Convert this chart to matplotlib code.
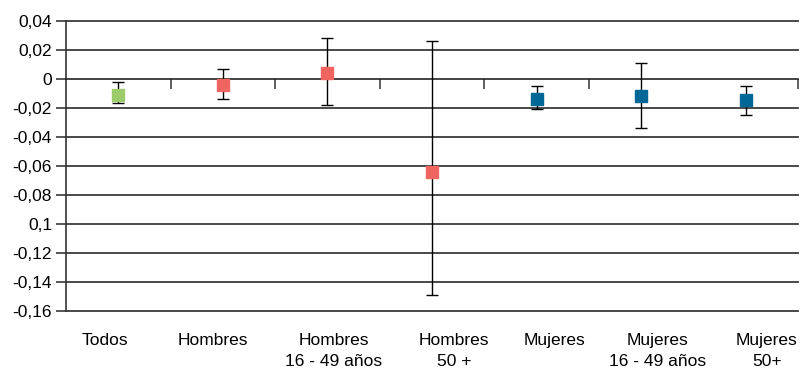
import numpy as np
import matplotlib.pyplot as plt

plt.rcParams['font.family'] = ['Liberation Sans', 'DejaVu Sans']

# datos
grupos = ["Todos", "Hombres", "Hombres\n16 - 49 años", "Hombres\n50 +",
          "Mujeres", "Mujeres\n16 - 49 años", "Mujeres\n50+"]
valor = [-0.011, -0.004, 0.004, -0.064, -0.014, -0.012, -0.0145]
sup = [-0.002, 0.007, 0.028, 0.026, -0.005, 0.011, -0.005]
inf = [-0.0166, -0.014, -0.018, -0.149, -0.021, -0.034, -0.025]
colores = ["#9bcb6a", "#f0655f", "#f0655f", "#f0655f",
           "#006796", "#006796", "#006796"]
yticks = [0.04, 0.02, 0, -0.02, -0.04, -0.06, -0.08, -0.1, -0.12, -0.14, -0.16]
ylabels = ["0,04", "0,02", "0", "-0,02", "-0,04", "-0,06", "-0,08", "0,1",
           "-0,12", "-0,14", "-0,16"]

fig = plt.figure(figsize=(8.02, 3.71), dpi=100)
ax = fig.add_axes([66/802, 60/371, 732/802, 290/371])

x = np.arange(len(grupos))
for i in range(len(grupos)):
    ax.errorbar(x[i], valor[i],
                yerr=[[valor[i] - inf[i]], [sup[i] - valor[i]]],
                fmt='s', color=colores[i], ms=8, ecolor='black',
                elinewidth=1, capsize=4.5, capthick=1, zorder=3)

ax.set_xlim(-0.5, 6.5)
ax.set_ylim(-0.16, 0.04)
ax.set_yticks(yticks)
ax.set_yticklabels(ylabels, fontsize=12.5)
for v in yticks:
    if v != 0:
        ax.axhline(v, color='#3a3a3a', lw=1.3, zorder=1, clip_on=False)
ax.tick_params(axis='y', direction='out', length=7, width=1.2, color='#3a3a3a', pad=3)

ax.spines['top'].set_visible(False)
ax.spines['right'].set_visible(False)
ax.spines['left'].set_color('#333333')
ax.spines['left'].set_linewidth(1.2)
ax.spines['bottom'].set_position(('data', 0))
ax.spines['bottom'].set_color('#222222')
ax.spines['bottom'].set_linewidth(1.2)
ax.set_xticks([0.5, 1.5, 2.5, 3.5, 4.5, 6.5])
ax.set_xticklabels([])
ax.tick_params(axis='x', direction='out', length=7, width=1.2, color='#444444')

# etiquetas de categoria (desplazadas como en el original)
despl = [-0.13, -0.1, 0.06, 0.21, 0.17, 0.16, 0.2]
for i, g in enumerate(grupos):
    ax.text(x[i] + despl[i], -0.1755, g, ha='center', va='top', fontsize=12.5,
            linespacing=1.5)

fig.savefig("out.png", dpi=100)
